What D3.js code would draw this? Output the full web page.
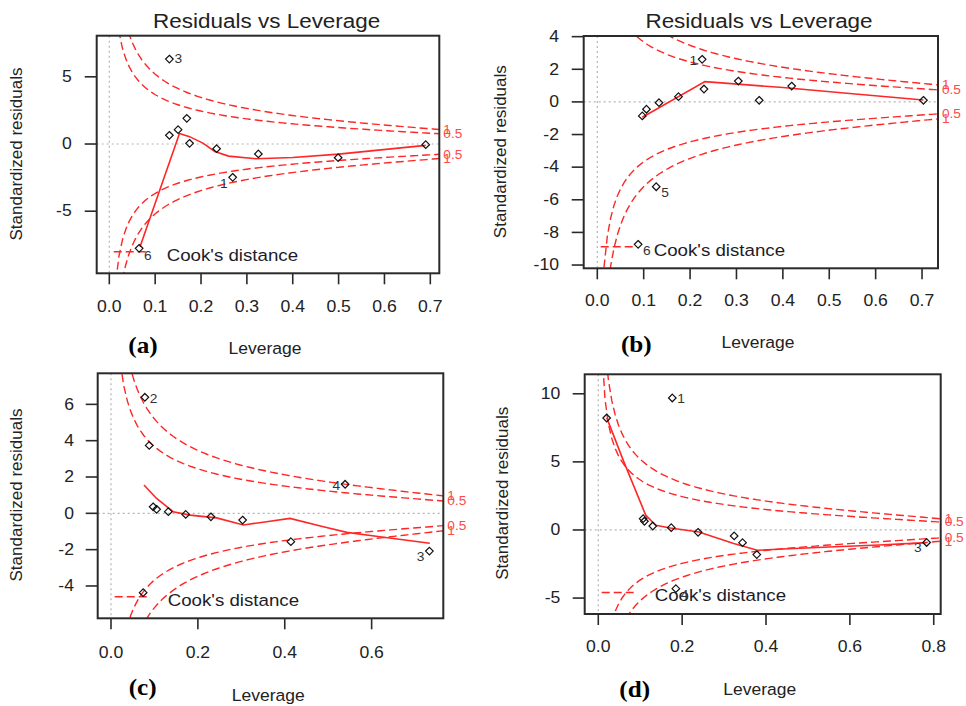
<!DOCTYPE html>
<html>
<head>
<meta charset="utf-8">
<script src="https://cdn.jsdelivr.net/npm/d3@7/dist/d3.min.js"></script>
<style>
  html, body { margin: 0; padding: 0; background: #fff; }
  svg { display: block; }
</style>
</head>
<body>
<svg id="chart" width="966" height="706"></svg>
<script>
// ---------- Data: residuals vs leverage for four fitted models ----------

// Cook's distance contour levels and number of coefficients in each model
const cookLevels = [0.5, 1];
const nCoef = 3;

// Panel (a)
const aLeverage = [0.131, 0.169, 0.150, 0.131, 0.175, 0.234, 0.325, 0.499, 0.690, 0.269, 0.065];
const aResid    = [6.32, 1.91, 1.07, 0.65, 0.05, -0.35, -0.74, -1.02, -0.05, -2.48, -7.76];
const aIds      = ["3", "", "", "", "", "", "", "", "", "1", "6"];
const aSmoothH  = [0.067, 0.153, 0.175, 0.205, 0.230, 0.260, 0.320, 0.400, 0.500, 0.690];
const aSmoothR  = [-7.65, 0.78, 0.55, 0.05, -0.55, -0.90, -1.10, -1.00, -0.75, -0.10];
const aXTicks   = [0, 0.1, 0.2, 0.3, 0.4, 0.5, 0.6, 0.7];
const aYTicks   = [-5, 0, 5];

// Panel (b)
const bLeverage = [0.226, 0.304, 0.419, 0.230, 0.175, 0.349, 0.703, 0.133, 0.106, 0.097, 0.127, 0.088];
const bResid    = [2.61, 1.28, 0.97, 0.79, 0.32, 0.10, 0.10, -0.05, -0.45, -0.86, -5.20, -8.73];
const bIds      = ["1", "", "", "", "", "", "", "", "", "", "5", "6"];
const bSmoothH  = [0.097, 0.232, 0.400, 0.550, 0.703];
const bSmoothR  = [-0.94, 1.24, 0.88, 0.50, 0.12];
const bXTicks   = [0, 0.1, 0.2, 0.3, 0.4, 0.5, 0.6, 0.7];
const bYTicks   = [-10, -8, -6, -4, -2, 0, 2, 4];

// Panel (c)
const cLeverage = [0.078, 0.088, 0.539, 0.097, 0.105, 0.132, 0.172, 0.230, 0.303, 0.414, 0.733, 0.074];
const cResid    = [6.39, 3.74, 1.60, 0.36, 0.22, 0.09, -0.06, -0.19, -0.37, -1.56, -2.08, -4.37];
const cIds      = ["2", "", "4", "", "", "", "", "", "", "", "3", ""];
const cSmoothH  = [0.076, 0.105, 0.143, 0.182, 0.243, 0.305, 0.358, 0.412, 0.489, 0.543, 0.619, 0.734];
const cSmoothR  = [1.56, 0.82, 0.09, -0.10, -0.25, -0.64, -0.46, -0.28, -0.74, -1.05, -1.29, -1.65];
const cXTicks   = [0, 0.2, 0.4, 0.6];
const cYTicks   = [-4, -2, 0, 2, 4, 6];

// Panel (d)
const dLeverage = [0.1765, 0.020, 0.107, 0.110, 0.130, 0.174, 0.238, 0.324, 0.344, 0.378, 0.185, 0.783];
const dResid    = [9.69, 8.22, 0.83, 0.64, 0.29, 0.17, -0.17, -0.44, -0.93, -1.81, -4.31, -0.92];
const dIds      = ["1", "", "", "", "", "", "", "", "", "", "4", "3"];
const dSmoothH  = [0.020, 0.061, 0.113, 0.137, 0.172, 0.240, 0.323, 0.379, 0.440, 0.550, 0.670, 0.783];
const dSmoothR  = [8.25, 5.00, 1.10, 0.35, 0.15, -0.15, -1.00, -1.49, -1.40, -1.25, -1.10, -0.93];
const dXTicks   = [0, 0.2, 0.4, 0.6, 0.8];
const dYTicks   = [-5, 0, 5, 10];

// ---------- Layout of the four panels ----------
const panels = [
  { key: "a", lev: aLeverage, res: aResid, ids: aIds, sh: aSmoothH, sr: aSmoothR, xt: aXTicks, yt: aYTicks,
    box: [96.7, 35.7, 439.3, 273.3], xDom: [-0.0275, 0.7196], yDom: [8.06, -9.62],
    title: [266.7, 27.7], ylab: [16.7, 154], xlab: [265, 354], letter: [143, 353],
    yTickRight: 71.7, xTickBase: 311.7,
    labelPos: { "3": ["r", 0], "1": ["l", 6], "6": ["r", 7] } },
  { key: "b", lev: bLeverage, res: bResid, ids: bIds, sh: bSmoothH, sr: bSmoothR, xt: bXTicks, yt: bYTicks,
    box: [583.7, 36, 938, 268.3], xDom: [-0.0293, 0.7344], yDom: [4.04, -10.2],
    title: [759, 28.3], ylab: [500.7, 151.7], xlab: [758, 348], letter: [636.3, 351.7],
    yTickRight: 559, xTickBase: 306,
    labelPos: { "1": ["l", 1], "5": ["r", 6], "6": ["r", 6] } },
  { key: "c", lev: cLeverage, res: cResid, ids: cIds, sh: cSmoothH, sr: cSmoothR, xt: cXTicks, yt: cYTicks,
    box: [97.7, 373.3, 443.3, 618.3], xDom: [-0.0306, 0.765], yDom: [7.71, -5.78],
    title: null, ylab: [16.7, 495], xlab: [268.3, 701], letter: [142.7, 695],
    yTickRight: 74, xTickBase: 658.3,
    labelPos: { "2": ["r", 1], "4": ["l", 1], "3": ["l", 6] } },
  { key: "d", lev: dLeverage, res: dResid, ids: dIds, sh: dSmoothH, sr: dSmoothR, xt: dXTicks, yt: dYTicks,
    box: [584.7, 374.3, 940.7, 614], xDom: [-0.0324, 0.8166], yDom: [11.43, -6.17],
    title: null, ylab: [502.3, 493.3], xlab: [759.7, 695], letter: [634.7, 696.7],
    yTickRight: 560.3, xTickBase: 652.3,
    labelPos: { "1": ["r", 1], "3": ["l", 5], "4": ["r", 6.5] } }
];

const svg = d3.select("#chart");
const SANS = "'Liberation Sans', Arial, Helvetica, sans-serif";
const SERIF = "'Liberation Serif', 'Times New Roman', serif";
const RED = "#ff2626";

// Text with a slight horizontal stretch
function txt(parent, x, y, s, o = {}) {
  let tr = `translate(${x},${y}) scale(${o.sx || 1},1)`;
  if (o.rot) tr += ` rotate(${o.rot})`;
  const g = parent.append("g").attr("transform", tr);
  return g.append("text")
    .attr("text-anchor", o.anchor || "start")
    .attr("dominant-baseline", o.base || "auto")
    .attr("font-family", o.family || SANS)
    .attr("font-size", o.size || 16)
    .attr("font-weight", o.weight || "normal")
    .attr("fill", o.color || "#222")
    .text(s);
}

panels.forEach((p, pi) => {
  const [L, T, R, B] = p.box;
  const x = d3.scaleLinear().domain(p.xDom).range([L, R]);
  const y = d3.scaleLinear().domain(p.yDom).range([T, B]);
  const g = svg.append("g");

  const clipId = "clip-" + p.key;
  svg.append("clipPath").attr("id", clipId)
    .append("rect").attr("x", L).attr("y", T).attr("width", R - L).attr("height", B - T);

  // Reference lines at zero residual and zero leverage
  g.append("line").attr("x1", L).attr("x2", R).attr("y1", y(0)).attr("y2", y(0))
    .attr("stroke", "#b4b4b4").attr("stroke-width", 1.2).attr("stroke-dasharray", "2,3");
  g.append("line").attr("x1", x(0)).attr("x2", x(0)).attr("y1", T).attr("y2", B)
    .attr("stroke", "#b4b4b4").attr("stroke-width", 1.2).attr("stroke-dasharray", "2,3");

  // Cook's distance contours
  const xmax = Math.min(0.99, p.xDom[1]);
  const h0 = d3.max(p.lev) / 100;
  const hh = d3.range(101).map(i => h0 + (xmax - h0) * i / 100);
  const contour = d3.line().x(d => x(d[0])).y(d => y(d[1]));
  const cg = g.append("g").attr("clip-path", `url(#${clipId})`);
  cookLevels.forEach(lv => {
    [1, -1].forEach(sgn => {
      const pts = hh.map(h => [h, sgn * Math.sqrt(lv * nCoef * (1 - h) / h)]);
      cg.append("path").attr("d", contour(pts))
        .attr("fill", "none").attr("stroke", RED).attr("stroke-width", 1.4)
        .attr("stroke-dasharray", "8,4");
    });
  });

  // Smoothed trend of residuals
  const smooth = p.sh.map((h, i) => [h, p.sr[i]]);
  cg.append("path").attr("d", contour(smooth))
    .attr("fill", "none").attr("stroke", RED).attr("stroke-width", 1.6);

  // Legend
  g.append("line").attr("x1", L + 17).attr("x2", L + 50).attr("y1", B - 21.5).attr("y2", B - 21.5)
    .attr("stroke", RED).attr("stroke-width", 1.4).attr("stroke-dasharray", "8,4");
  txt(g, L + 70, B - 18.5, "Cook's distance", { size: 17, sx: 1.1, base: "central", color: "#1c1c28" });

  // Observations
  const diamond = (cx, cy, s) => `M${cx},${cy - s}L${cx + s},${cy}L${cx},${cy + s}L${cx - s},${cy}Z`;
  g.append("g").selectAll("path").data(p.lev.map((h, i) => [h, p.res[i]])).join("path")
    .attr("d", d => diamond(x(d[0]), y(d[1]), 3.8))
    .attr("fill", "none").attr("stroke", "#111").attr("stroke-width", 1.2);

  // Labels of the most extreme observations
  p.ids.forEach((id, i) => {
    if (!id) return;
    const [side, dy] = p.labelPos[id];
    const px = x(p.lev[i]), py = y(p.res[i]);
    txt(g, side === "r" ? px + 5 : px - 5, py + dy, id,
      { size: 12.5, sx: 1.1, anchor: side === "r" ? "start" : "end", base: "central", color: "#333" });
  });

  // Contour level labels on the right edge
  const ymult = Math.sqrt(nCoef * (1 - xmax) / xmax);
  cookLevels.forEach(lv => {
    [1, -1].forEach(sgn => {
      txt(g, R + 4, y(sgn * Math.sqrt(lv) * ymult), String(lv),
        { size: 13, sx: 1.05, base: "central", color: "#ff4a4a" });
    });
  });

  // Plot frame
  g.append("rect").attr("x", L).attr("y", T).attr("width", R - L).attr("height", B - T)
    .attr("fill", "none").attr("stroke", "#2a2a2a").attr("stroke-width", 2);

  // Axes
  const fmtX = d3.format(".1f");
  p.xt.forEach(t => {
    g.append("line").attr("x1", x(t)).attr("x2", x(t)).attr("y1", B).attr("y2", B + 11)
      .attr("stroke", "#2a2a2a").attr("stroke-width", 1.6);
    txt(g, x(t), p.xTickBase, fmtX(t), { size: 16, sx: 1.1, anchor: "middle" });
  });
  p.yt.forEach(t => {
    g.append("line").attr("x1", L).attr("x2", L - 12).attr("y1", y(t)).attr("y2", y(t))
      .attr("stroke", "#2a2a2a").attr("stroke-width", 1.6);
    txt(g, p.yTickRight, y(t), String(t), { size: 16, sx: 1.1, anchor: "end", base: "central" });
  });

  // Titles and labels
  if (p.title) txt(g, p.title[0], p.title[1], "Residuals vs Leverage", { size: 21, sx: 1.07, anchor: "middle" });
  txt(g, p.ylab[0], p.ylab[1], "Standardized residuals", { size: 17, anchor: "middle", base: "central", rot: -90 });
  txt(g, p.xlab[0], p.xlab[1], "Leverage", { size: 17, sx: 1.03, anchor: "middle" });
  txt(g, p.letter[0], p.letter[1], `(${p.key})`, { size: 24, sx: 1.05, anchor: "middle", family: SERIF, weight: "bold", color: "#000" });
});
</script>
</body>
</html>
